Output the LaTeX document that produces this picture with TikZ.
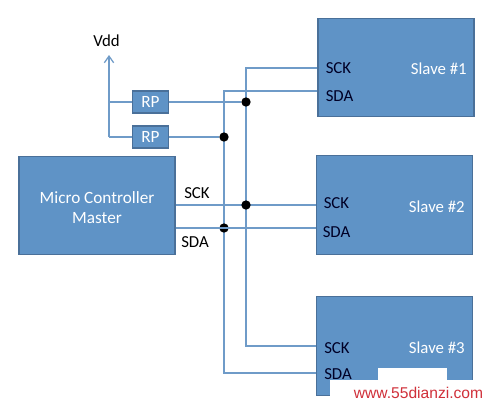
\documentclass[tikz,border=0pt]{standalone}
\usepackage{fontspec}
\usetikzlibrary{arrows.meta}
\setmainfont{Carlito}
\newfontfamily\wmfont{Liberation Sans}
\definecolor{boxfill}{HTML}{5F93C6}
\definecolor{boxedge}{HTML}{4A7099}
\definecolor{wire}{HTML}{6F9BC8}
\definecolor{wmred}{HTML}{D0303A}
\pgfdeclarelayer{back}
\pgfsetlayers{back,main}
\tikzset{
  x=0.75pt,y=-0.75pt,
  blockbox/.style={draw=boxedge,fill=boxfill,line width=0.9pt,minimum width=117pt,minimum height=74pt,inner sep=0pt,text=white,align=center,font=\fontsize{12.9}{15}\selectfont},
  rpbox/.style={blockbox,minimum width=27.5pt,minimum height=16.5pt},
  wireline/.style={draw=wire,line width=0.95pt},
  dotmark/.style={circle,fill=black,inner sep=0pt,minimum size=7pt},
  lbl/.style={font=\fontsize{12.6}{15}\selectfont,text=black,inner sep=0pt},
  portlbl/.style={lbl,text=black!85!blue,anchor=west},
  slavelbl/.style={lbl,text=white,anchor=east}
}
\begin{document}
\begin{tikzpicture}
\useasboundingbox (0,0) rectangle (488,404);
\begin{pgfonlayer}{back}
\fill[white] (0,0) rectangle (488,404);
\end{pgfonlayer}
% blocks
\node[blockbox] (s1) at (396,67.5) {};
\node[blockbox] (s2) at (394.5,205) {};
\node[blockbox] (s3) at (394.5,346) {};
\node[blockbox] (m) at (97,205.5) {};
\node[inner sep=0pt,text=white,align=center,font=\fontsize{12.9}{15}\selectfont] (mt) at (97,207.5) {Micro Controller\\Master};
\node[rpbox] (r1) at (150.5,102) {RP};
\node[rpbox] (r2) at (150.5,137) {RP};
% free points
\coordinate (vtop) at (109,55);
\coordinate (v1) at (109,102);
\coordinate (v2) at (109,137);
\coordinate (p1c) at (318,68);
\coordinate (p1d) at (318,91);
\coordinate (p2c) at (316,205);
\coordinate (p2d) at (316,228);
\coordinate (p3c) at (316,346);
\coordinate (p3d) at (316,373);
\coordinate (c1) at (246,68);
\coordinate (d1) at (224,91);
\coordinate (c3) at (246,346);
\coordinate (d3) at (224,373);
\node[dotmark] (j1) at (246,102) {};
\node[dotmark] (j2) at (224,137) {};
\node[dotmark] (j3) at (246,205) {};
\node[dotmark] (j4) at (224,228) {};
\coordinate (mc) at (m.east |- j3);
\coordinate (md) at (m.east |- j4);
% wires
\begin{pgfonlayer}{back}
\draw[wireline,-{Straight Barb[length=5pt,width=7pt]}] (v2) -- (vtop);
\draw[wireline] (v1) -- (r1);
\draw[wireline] (v2) -- (r2);
\draw[wireline] (r1) -- (j1);
\draw[wireline] (r2) -- (j2);
\draw[wireline] (p1c) -- (c1) -- (c3) -- (p3c);
\draw[wireline] (p1d) -- (d1) -- (d3) -- (p3d);
\draw[wireline] (mc) -- (p2c);
\end{pgfonlayer}
\draw[wireline] (md) -- (p2d);
% labels
\node[lbl] (vdd) at (106.5,40.5) {Vdd};
\node[lbl,anchor=west] (lc) at (184,193.5) {SCK};
\node[lbl,anchor=west] (ld) at (181,242.5) {SDA};
\node[portlbl] (a1) at (325.5,68.5) {SCK};
\node[portlbl] (b1) at (325.5,96) {SDA};
\node[slavelbl] (n1) at (467,69) {Slave \#1};
\node[portlbl] (a2) at (323.5,203) {SCK};
\node[portlbl] (b2) at (322.5,232) {SDA};
\node[slavelbl] (n2) at (465,207) {Slave \#2};
\node[portlbl] (a3) at (324,348) {SCK};
\node[portlbl] (b3) at (324,374) {SDA};
\node[slavelbl] (n3) at (465,348) {Slave \#3};
% watermark
\fill[white] (378,368) rectangle (447,381);
\fill[white] (330,380) rectangle (488,404);
\node[inner sep=0pt,text=wmred,font=\wmfont\fontsize{11.7}{14}\selectfont,anchor=center] (wm) at (418.5,393) {www.55dianzi.com};
\end{tikzpicture}
\end{document}
